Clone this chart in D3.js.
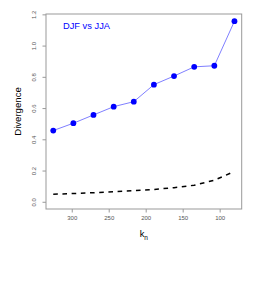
<!DOCTYPE html>
<html>
<head>
<meta charset="utf-8">
<script src="https://cdn.jsdelivr.net/npm/d3@7"></script>
<style>
  body { margin: 0; background: #fff; }
  svg text { font-family: "Liberation Sans", Arial, sans-serif; }
</style>
</head>
<body>
<svg id="chart" width="273" height="283"></svg>
<script>
'use strict'

// k_n values
const kValues = [325, 297.8, 270.6, 243.3, 216.1, 188.9, 161.7, 134.4, 107.2, 80]
// DJF vs JJA divergence (blue points)
const divergence = [0.456, 0.503, 0.556, 0.609, 0.641, 0.750, 0.805, 0.864, 0.871, 1.156]
// reference curve (dashed)
const baseline = [0.048, 0.053, 0.058, 0.064, 0.071, 0.079, 0.090, 0.106, 0.138, 0.194]
const xTicks = [300, 250, 200, 150, 100]
const yTicks = [0.0, 0.2, 0.4, 0.6, 0.8, 1.0, 1.2]

const plot = {left: 46, right: 241.7, top: 14, bottom: 209}

// R style 4% padding around the data range
const xMin = d3.min(kValues), xMax = d3.max(kValues)
const xPad = (xMax - xMin) * 0.04
const x = d3.scaleLinear().domain([xMax + xPad, xMin - xPad]).range([plot.left, plot.right])

const yMin = 0, yMax = d3.max(divergence)
const yPad = (yMax - yMin) * 0.04
const y = d3.scaleLinear().domain([yMin - yPad, yMax + yPad]).range([plot.bottom, plot.top])

const svg = d3.select('#chart')

// dashed curve
svg.append('path')
  .datum(kValues.map((k, i) => [k, baseline[i]]))
  .attr('fill', 'none')
  .attr('stroke', '#000')
  .attr('stroke-width', 1.5)
  .attr('stroke-dasharray', '4.6,4.6')
  .attr('d', d3.line().x(d => x(d[0])).y(d => y(d[1])))

// divergence line + points
svg.append('path')
  .datum(kValues.map((k, i) => [k, divergence[i]]))
  .attr('fill', 'none')
  .attr('stroke', '#7f7fff')
  .attr('stroke-width', 1)
  .attr('d', d3.line().x(d => x(d[0])).y(d => y(d[1])))

svg.selectAll('circle.pt')
  .data(kValues.map((k, i) => [k, divergence[i]]))
  .enter().append('circle')
    .attr('class', 'pt')
    .attr('cx', d => x(d[0]))
    .attr('cy', d => y(d[1]))
    .attr('r', 2.9)
    .attr('fill', '#0000ff')

// axes
const xAxis = svg.append('g')
  .attr('transform', 'translate(0,' + plot.bottom + ')')
  .call(d3.axisBottom(x).tickValues(xTicks).tickSize(3.5).tickPadding(3).tickFormat(d3.format('d')))
const yAxis = svg.append('g')
  .attr('transform', 'translate(' + plot.left + ',0)')
  .call(d3.axisLeft(y).tickValues(yTicks).tickSize(3.5).tickFormat(d3.format('.1f')))

xAxis.select('.domain').remove()
yAxis.select('.domain').remove()
svg.selectAll('.tick line').attr('stroke', '#999')
xAxis.selectAll('.tick text')
  .attr('fill', '#555').style('font-size', '6px')
yAxis.selectAll('.tick text')
  .attr('fill', '#555').style('font-size', '6px')
  .attr('text-anchor', 'middle')
  .attr('x', 0).attr('dy', 0)
  .attr('transform', 'translate(-10,0) rotate(-90)')

// frame
svg.append('rect')
  .attr('x', plot.left).attr('y', plot.top)
  .attr('width', plot.right - plot.left).attr('height', plot.bottom - plot.top)
  .attr('fill', 'none').attr('stroke', '#999').attr('stroke-width', 1)

// labels
svg.append('text')
  .attr('x', 63).attr('y', 28.5)
  .attr('fill', '#0000ff').style('font-size', '9.3px')
  .text('DJF vs JJA')

svg.append('text')
  .attr('transform', 'translate(21,' + (plot.top + plot.bottom) / 2 + ') rotate(-90)')
  .attr('text-anchor', 'middle').attr('fill', '#000').style('font-size', '9.6px')
  .text('Divergence')

const kLabel = svg.append('text')
  .attr('x', (plot.left + plot.right) / 2).attr('y', 237)
  .attr('text-anchor', 'middle').attr('fill', '#000').style('font-size', '9.3px')
kLabel.append('tspan').text('k')
kLabel.append('tspan').attr('dy', 2.5).style('font-size', '6.5px').text('n')
</script>
</body>
</html>
